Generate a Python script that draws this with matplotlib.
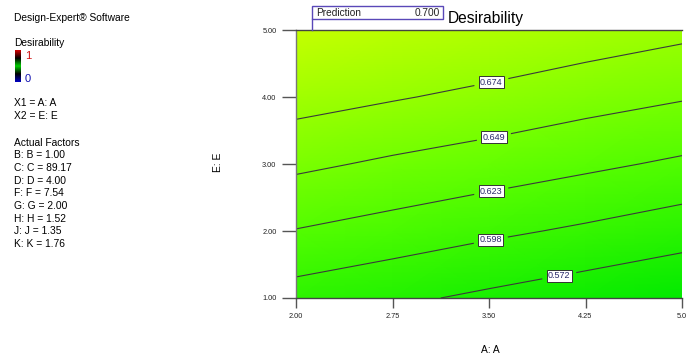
import numpy as np
import matplotlib
matplotlib.use('Agg')
import matplotlib.pyplot as plt
from matplotlib.colors import LinearSegmentedColormap
from matplotlib.patches import Rectangle

plt.rcParams['font.family'] = ['Liberation Sans', 'DejaVu Sans']

# factor A (x) and factor E (y) grid, desirability
A_vals = [2.00, 2.75, 3.50, 4.25, 5.00]
E_vals = [1.00, 2.00, 3.00, 4.00, 5.00]
desir = [
    [0.587, 0.577, 0.567, 0.557, 0.547],
    [0.622, 0.613, 0.603, 0.594, 0.584],
    [0.654, 0.645, 0.637, 0.628, 0.619],
    [0.684, 0.676, 0.668, 0.659, 0.651],
    [0.712, 0.704, 0.696, 0.688, 0.680],
]
levels = [0.572, 0.598, 0.623, 0.649, 0.674]
label_pos = [(4.04, 1.40), (3.51, 1.91), (3.51, 2.67), (3.53, 3.48), (3.51, 4.30)]
x_ticks = [2.00, 2.75, 3.50, 4.25, 5.0]
x_ticklabels = ['2.00', '2.75', '3.50', '4.25', '5.0']
y_ticks = [1.00, 2.00, 3.00, 4.00, 5.00]
prediction = 0.700
factors = ['B: B = 1.00', 'C: C = 89.17', 'D: D = 4.00', 'F: F = 7.54',
           'G: G = 2.00', 'H: H = 1.52', 'J: J = 1.35', 'K: K = 1.76']

W, H = 687, 356
fig = plt.figure(figsize=(W / 100, H / 100), dpi=100)
ax = fig.add_axes([296 / W, 1 - 298 / H, 386 / W, 268 / H])

cmap = LinearSegmentedColormap.from_list('des', ['#00ea00', '#5cff00', '#c8ff00'])
X, Y = np.meshgrid(A_vals, E_vals)
Z = np.array(desir)
ax.pcolormesh(X, Y, Z, shading='gouraud', cmap=cmap, vmin=0.545, vmax=0.715)
cs = ax.contour(X, Y, Z, levels=levels, colors='#3a3a3a', linewidths=0.8)
lbls = ax.clabel(cs, fmt='%.3f', fontsize=6.5, colors='#2a2a6a', inline=True,
                 inline_spacing=6, manual=label_pos)
for t in lbls:
    t.set_rotation(0)
    t.set_bbox(dict(boxstyle='square,pad=0.15', fc='white', ec='#333333', lw=0.7))

ax.set_xlim(2, 5)
ax.set_ylim(1, 5)
ax.set_xticks(x_ticks)
ax.set_xticklabels(x_ticklabels)
ax.set_yticks(y_ticks)
ax.set_yticklabels(['%.2f' % v for v in y_ticks])
ax.tick_params(axis='both', labelsize=5.3, colors='#555555', labelcolor='#222222',
               length=10, width=1, pad=4)
ax.tick_params(axis='x', length=7)
for s in ['left', 'bottom', 'top']:
    ax.spines[s].set_color('#444444')
    ax.spines[s].set_linewidth(1)
ax.spines['right'].set_visible(False)
ax.spines['left'].set_color('#777777')

# title and prediction box
fig.text(448 / W, 1 - 18 / H, 'Desirability', fontsize=11.2, va='center')
fig.patches.append(Rectangle((312 / W, 1 - 19 / H), 131 / W, 13 / H,
                             transform=fig.transFigure, fill=False,
                             ec='#5a48b8', lw=1))
fig.add_artist(plt.Line2D([312 / W, 312 / W], [1 - 30 / H, 1 - 19 / H],
                          transform=fig.transFigure, color='#5a48b8', lw=1))
fig.text(316 / W, 1 - 13 / H, 'Prediction', fontsize=7.3, va='center', color='#222222')
fig.text(440 / W, 1 - 13 / H, '%.3f' % prediction, fontsize=7.3, va='center',
         ha='right', color='#222222')

# axis titles
fig.text(490 / W, 1 - 350 / H, 'A: A', fontsize=7.4, ha='center', va='center')
fig.text(218 / W, 1 - 162 / H, 'E: E', fontsize=7.4, rotation=90, ha='center', va='center')

# left side info
fs = 7.4
fig.text(14 / W, 1 - 18 / H, 'Design-Expert\u00ae Software', fontsize=fs, va='center')
fig.text(14 / W, 1 - 43 / H, 'Desirability', fontsize=fs, va='center')
cax = fig.add_axes([15 / W, 1 - 82 / H, 6 / W, 32 / H])
bar_cmap = LinearSegmentedColormap.from_list('bar', ['#0000c0', '#000000', '#00d000', '#000000', '#d00000'])
cax.imshow(np.linspace(0, 1, 50)[:, None], cmap=bar_cmap, aspect='auto', origin='lower')
cax.set_axis_off()
fig.text(25 / W, 1 - 56 / H, '1', fontsize=8, color='#d01010', va='center')
fig.text(25 / W, 1 - 79 / H, '0', fontsize=8, color='#1010b0', va='center')
fig.text(14 / W, 1 - 103 / H, 'X1 = A: A', fontsize=fs, va='center')
fig.text(14 / W, 1 - 116 / H, 'X2 = E: E', fontsize=fs, va='center')
fig.text(14 / W, 1 - 143 / H, 'Actual Factors', fontsize=fs, va='center')
for i, f in enumerate(factors):
    fig.text(14 / W, 1 - (155.5 + i * 12.6) / H, f, fontsize=fs, va='center')

fig.savefig('out.png', dpi=100)
